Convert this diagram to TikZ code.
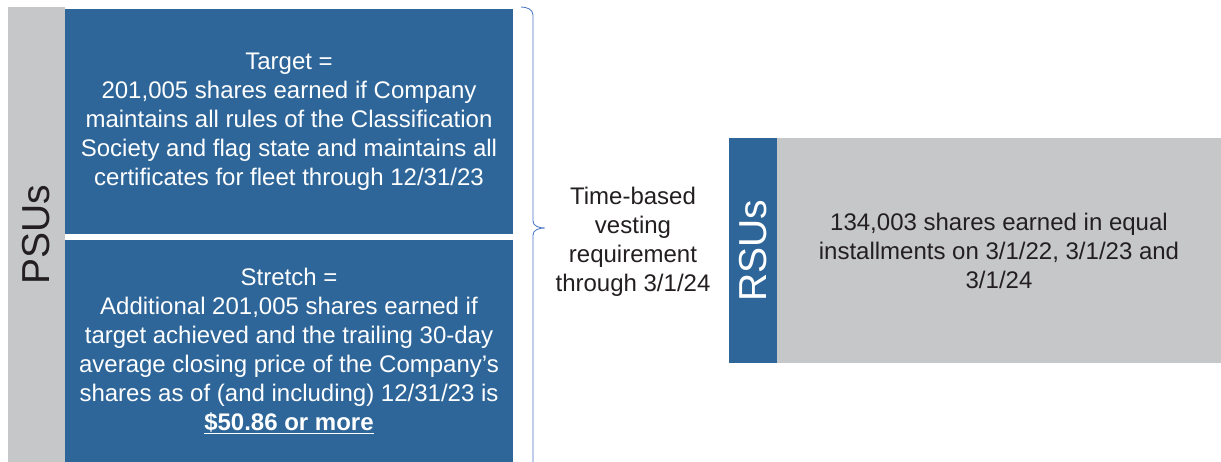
\documentclass[tikz,border=0pt]{standalone}
\usepackage{fontspec}
\setmainfont{Liberation Sans}
\usepackage{xcolor}
\usepackage{tikz}
\definecolor{psublue}{RGB}{46,102,153}
\definecolor{bargray}{RGB}{198,199,201}
\definecolor{inktext}{RGB}{35,31,32}
\definecolor{bracecol}{RGB}{68,114,196}
\tikzset{
  bluebox/.style={fill=psublue,text=white,inner sep=0pt,align=center,
    font=\fontsize{24}{29}\selectfont},
  graybox/.style={fill=bargray,text=inktext,inner sep=0pt,align=center,
    font=\fontsize{24}{29}\selectfont},
  sidelabel/.style={rotate=90,font=\fontsize{39}{44}\selectfont}
}

\begin{document}
\begin{tikzpicture}[x=1pt,y=-1pt]
  \useasboundingbox[fill=white] (0,0) rectangle (1221,462);
  % PSUs side bar
  \node[graybox,minimum width=57pt,minimum height=455pt] (psubar) at (36.5,234.5) {};
  \node[sidelabel,text=inktext] (psulabel) at (psubar.center) {PSUs};
  % Target box
  \node[bluebox,minimum width=448pt,minimum height=225pt] (target) at (289,121.5)
    {Target =\\201,005 shares earned if Company\\maintains all rules of the Classification\\Society and flag state and maintains all\\certificates for fleet through 12/31/23};
  % Stretch box
  \node[bluebox,minimum width=448pt,minimum height=222pt] (stretch) at (289,351)
    {Stretch =\\Additional 201,005 shares earned if\\target achieved and the trailing 30-day\\average closing price of the Company's\\shares as of (and including) 12/31/23 is\\\textbf{\underline{\$50.86 or more}}};
  % Bracket
  \coordinate (bracetop) at (521,7);
  \coordinate (bracetip) at (545,228);
  \draw[bracecol,line width=0.8pt] (bracetop) to[out=0,in=90] (533,15)
    -- (533,221) to[out=-90,in=180] (bracetip)
    to[out=180,in=90] (533,235) -- (533,462);
  % Time-based vesting
  \node[text=inktext,align=center,font=\fontsize{24}{29}\selectfont] (vesting) at (633,242)
    {Time-based\\vesting\\requirement\\through 3/1/24};
  % RSUs
  \node[bluebox,minimum width=48pt,minimum height=225pt] (rsubar) at (753,250.5) {};
  \node[sidelabel,text=white] (rsulabel) at (rsubar.center) {RSUs};
  \node[graybox,minimum width=444pt,minimum height=225pt] (rsubox) at (999,250.5)
    {134,003 shares earned in equal\\installments on 3/1/22, 3/1/23 and\\3/1/24};
\end{tikzpicture}
\end{document}
